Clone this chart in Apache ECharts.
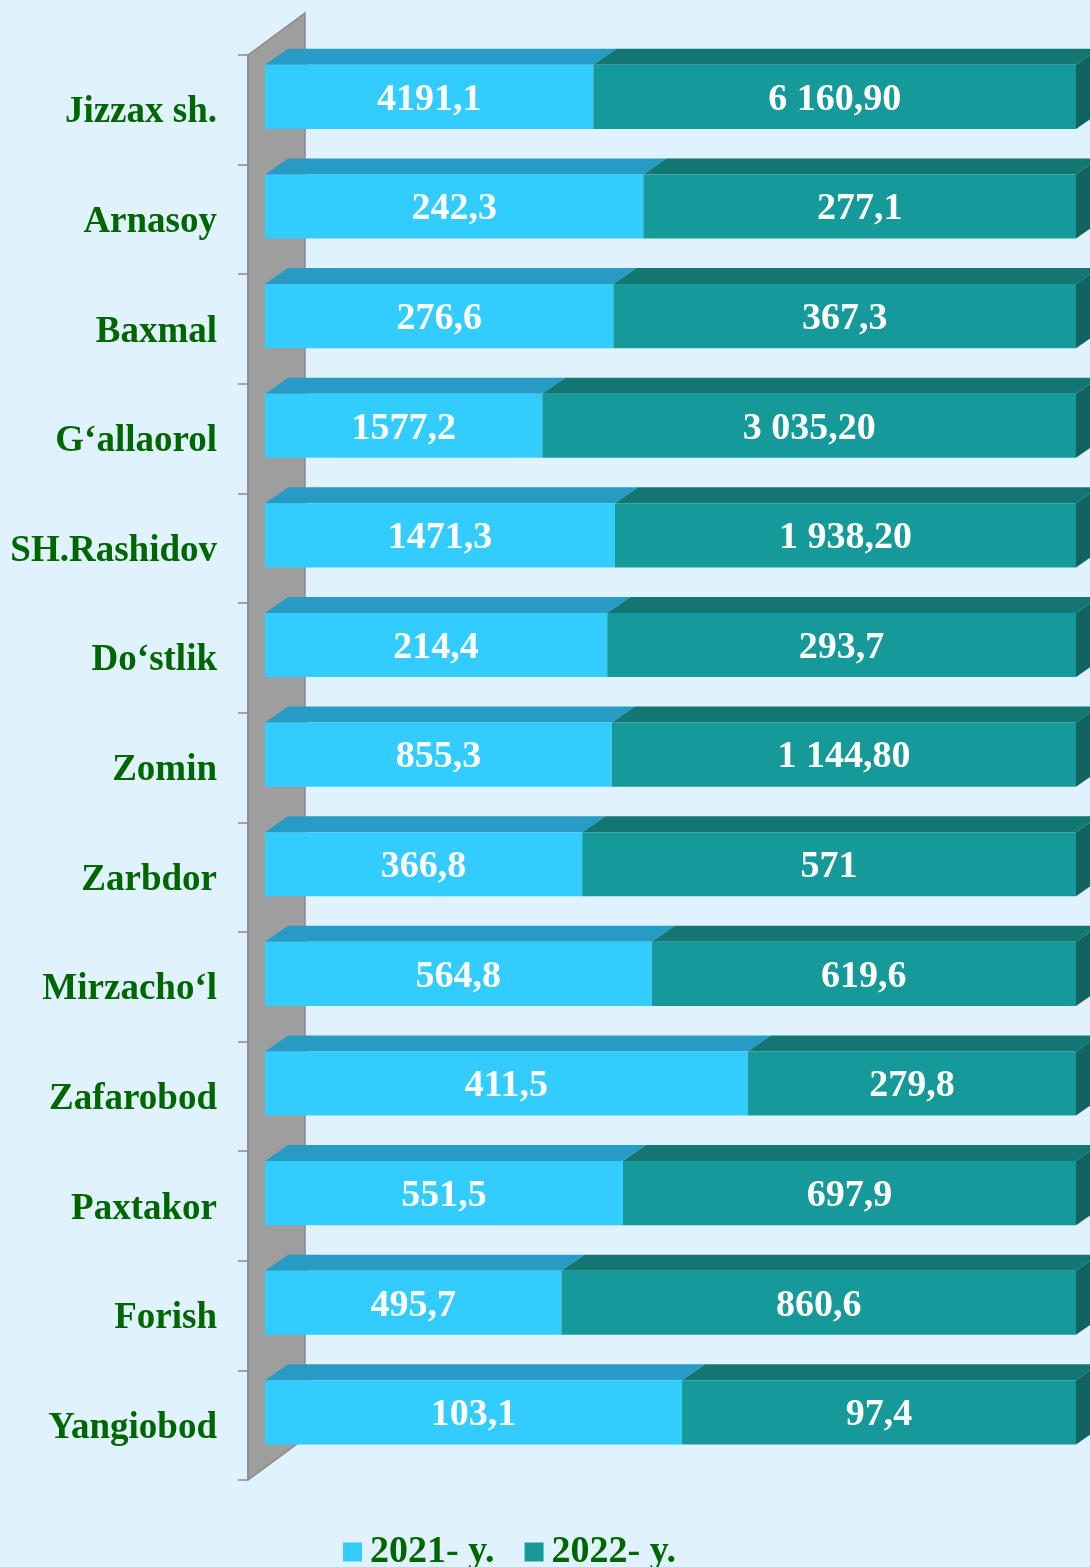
<!DOCTYPE html>
<html><head><meta charset="utf-8">
<script src="https://cdn.jsdelivr.net/npm/echarts@6/dist/echarts.min.js"></script>
<style>html,body{margin:0;padding:0;background:#E0F2FE;}#c{width:1090px;height:1567px;}</style>
</head><body><div id="c"></div>
<script>
var categories = ['Jizzax sh.','Arnasoy','Baxmal','G\u2018allaorol','SH.Rashidov','Do\u2018stlik','Zomin','Zarbdor','Mirzacho\u2018l','Zafarobod','Paxtakor','Forish','Yangiobod'];
var v2021 = [4191.1,242.3,276.6,1577.2,1471.3,214.4,855.3,366.8,564.8,411.5,551.5,495.7,103.1];
var v2022 = [6160.9,277.1,367.3,3035.2,1938.2,293.7,1144.8,571,619.6,279.8,697.9,860.6,97.4];
var labels2021 = ['4191,1','242,3','276,6','1577,2','1471,3','214,4','855,3','366,8','564,8','411,5','551,5','495,7','103,1'];
var labels2022 = ['6 160,90','277,1','367,3','3 035,20','1 938,20','293,7','1 144,80','571','619,6','279,8','697,9','860,6','97,4'];
var seriesNames = ['2021- y.','2022- y.'];

var FONT = '"Liberation Serif","Times New Roman",serif';
var DX = 23, DY = -16;

var data1 = [], data2 = [];
for (var i = 0; i < categories.length; i++) {
  var s = v2021[i] / (v2021[i] + v2022[i]);
  data1.push([0, s, i]);
  data2.push([s, 1, i]);
}

function makeRender(front, top, side, labels, drawSide) {
  return function (params, api) {
    var idx = api.value(2);
    var p0 = api.coord([api.value(0), idx]);
    var p1 = api.coord([api.value(1), idx]);
    var band = api.size([0, 1])[1];
    var y0 = p0[1] - band / 2 + band * 0.09;
    var h = band * 0.585;
    var x0 = p0[0], x1 = p1[0];
    var children = [
      {type: 'polygon', shape: {points: [[x0, y0], [x1, y0], [x1 + DX, y0 + DY], [x0 + DX, y0 + DY]]}, style: {fill: top}},
      {type: 'rect', shape: {x: x0, y: y0, width: x1 - x0, height: h}, style: {fill: front}}
    ];
    if (drawSide) {
      children.push({type: 'polygon', shape: {points: [[x1, y0], [x1 + DX, y0 + DY], [x1 + DX, y0 + h + DY], [x1, y0 + h]]}, style: {fill: side}});
    }
    children.push({type: 'text', style: {text: labels[params.dataIndex], x: (x0 + x1) / 2, y: y0 + h / 2 + 3, align: 'center', verticalAlign: 'middle', fill: '#FFFFFF', font: 'bold 38px ' + FONT}});
    return {type: 'group', children: children};
  };
}

var chart = echarts.init(document.getElementById('c'));
chart.setOption({
  backgroundColor: '#E0F2FE',
  animation: false,
  grid: {left: 265, right: 14, top: 55, bottom: 87},
  xAxis: {type: 'value', min: 0, max: 1, show: false},
  yAxis: {
    type: 'category', data: categories, inverse: true, offset: 17, z: 5,
    axisLine: {show: true, onZero: false, lineStyle: {color: '#8A8A8A', width: 1.5}},
    axisTick: {show: true, length: 10, lineStyle: {color: '#8A8A8A', width: 1.5}},
    axisLabel: {margin: 31, formatter: '{a|{value}}',
      rich: {a: {color: '#006600', fontSize: 37, fontWeight: 'bold', fontFamily: FONT, padding: [6, 0, 0, 0]}}},
    splitLine: {show: false}
  },
  legend: {
    data: seriesNames, left: 343, top: 1533, padding: 0, icon: 'rect', itemWidth: 19, itemHeight: 19, itemGap: 30,
    textStyle: {color: '#006600', fontSize: 38, fontWeight: 'bold', fontFamily: FONT, padding: [0, 0, 0, 3]}
  },
  series: [
    {
      type: 'custom', name: 'wall', z: 1, silent: true, clip: false,
      data: [[0, 0]],
      renderItem: function (params, api) {
        var cs = params.coordSys;
        var fx = cs.x - 17;
        return {type: 'polygon', shape: {points: [[fx, cs.y], [fx + 57, cs.y - 42], [fx + 57, cs.y + cs.height - 42], [fx, cs.y + cs.height]]},
          style: {fill: '#9E9E9E', stroke: '#8A8A8A', lineWidth: 1.5}};
      }
    },
    {
      type: 'custom', name: seriesNames[0], z: 2, clip: false, itemStyle: {color: '#33CCFF'},
      encode: {x: [0, 1], y: 2}, data: data1,
      renderItem: makeRender('#33CCFF', '#279BC3', '#1F7FA0', labels2021, false)
    },
    {
      type: 'custom', name: seriesNames[1], z: 3, clip: false, itemStyle: {color: '#169A99'},
      encode: {x: [0, 1], y: 2}, data: data2,
      renderItem: makeRender('#169A99', '#127773', '#10635F', labels2022, true)
    }
  ]
});
</script></body></html>
